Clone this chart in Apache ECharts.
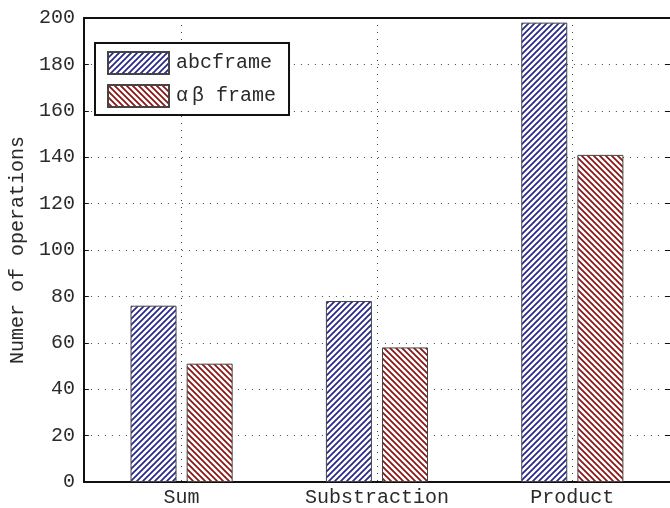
<!DOCTYPE html>
<html>
<head>
<meta charset="utf-8">
<script src="https://cdn.jsdelivr.net/npm/echarts@6/dist/echarts.min.js"></script>
<style>
  html, body { margin: 0; padding: 0; background: #fff; }
  #chart { width: 670px; height: 508px; }
</style>
</head>
<body>
<div id="chart"></div>
<script>
// Operation counts per frame representation
const categories = ['Sum', 'Substraction', 'Product'];
const abcValues = [76, 78, 198];
const alphaBetaValues = [51, 58, 141];
const seriesNames = ['abcframe', 'α\u2009β frame'];
const yMin = 0, yMax = 200, yStep = 20;

const FONT = '"Liberation Mono", "DejaVu Sans Mono", monospace';

// Diagonal hatch fill, white background with coloured stripes
function hatch(color, forward) {
  const s = 6;
  const c = document.createElement('canvas');
  c.width = s; c.height = s;
  const g = c.getContext('2d');
  g.fillStyle = '#fff';
  g.fillRect(0, 0, s, s);
  g.strokeStyle = color;
  g.lineWidth = 1.7;
  g.beginPath();
  if (forward) {
    g.moveTo(-1, s + 1); g.lineTo(s + 1, -1);
    g.moveTo(-1, 1); g.lineTo(1, -1);
    g.moveTo(s - 1, s + 1); g.lineTo(s + 1, s - 1);
  } else {
    g.moveTo(-1, -1); g.lineTo(s + 1, s + 1);
    g.moveTo(s - 1, -1); g.lineTo(s + 1, 1);
    g.moveTo(-1, s - 1); g.lineTo(1, s + 1);
  }
  g.stroke();
  return { image: c, repeat: 'repeat' };
}

const chart = echarts.init(document.getElementById('chart'), null, { renderer: 'canvas' });

const dotted = { color: '#444', width: 1, type: [1, 6] };

chart.setOption({
  animation: false,
  backgroundColor: '#fff',
  grid: { left: 83, right: -2, top: 18, bottom: 24, containLabel: false },
  legend: {
    orient: 'vertical',
    left: 95, top: 43,
    padding: [8, 13, 7, 12],
    itemGap: 9,
    itemWidth: 61, itemHeight: 22,
    borderColor: '#111', borderWidth: 2,
    backgroundColor: '#fff',
    icon: 'rect',
    textStyle: { fontFamily: FONT, fontSize: 20, color: '#2a2a2a', padding: [0, 0, 0, 2] },
    data: seriesNames
  },
  xAxis: [
    {
      type: 'category', data: categories, position: 'bottom',
      axisLine: { lineStyle: { color: '#111', width: 2 } },
      axisTick: { inside: true, alignWithLabel: true, length: 5, lineStyle: { color: '#111' } },
      axisLabel: { fontFamily: FONT, fontSize: 20, color: '#2a2a2a', margin: 6 },
      splitLine: { show: true, alignWithLabel: true, lineStyle: dotted }
    },
    {
      type: 'category', data: categories, position: 'top',
      axisLine: { onZero: false, lineStyle: { color: '#111', width: 2 } },
      axisTick: { inside: true, alignWithLabel: true, length: 5, lineStyle: { color: '#111' } },
      axisLabel: { show: false },
      splitLine: { show: false }
    }
  ],
  yAxis: [
    {
      type: 'value', min: yMin, max: yMax, interval: yStep, position: 'left',
      name: 'Numer of operations', nameLocation: 'middle', nameGap: 54,
      nameTextStyle: { fontFamily: FONT, fontSize: 20, color: '#2a2a2a' },
      axisLine: { show: true, lineStyle: { color: '#111', width: 2 } },
      axisTick: { show: true, inside: true, length: 5, lineStyle: { color: '#111' } },
      axisLabel: { fontFamily: FONT, fontSize: 20, color: '#2a2a2a', margin: 9 },
      splitLine: { show: true, lineStyle: dotted }
    },
    {
      // right frame edge sits just past the canvas; only its inward ticks show
      type: 'value', min: yMin, max: yMax, interval: yStep, position: 'right',
      axisLine: { show: false },
      axisTick: { show: true, inside: true, length: 5, lineStyle: { color: '#111' } },
      axisLabel: { show: false },
      splitLine: { show: false }
    }
  ],
  series: [
    {
      name: seriesNames[0], type: 'bar', data: abcValues,
      barWidth: 46, barGap: '22%',
      itemStyle: { color: hatch('#26268c', true), borderColor: '#444', borderWidth: 1 }
    },
    {
      name: seriesNames[1], type: 'bar', data: alphaBetaValues,
      barWidth: 46, barGap: '22%',
      itemStyle: { color: hatch('#8c1212', false), borderColor: '#444', borderWidth: 1 }
    }
  ]
});
</script>
</body>
</html>
